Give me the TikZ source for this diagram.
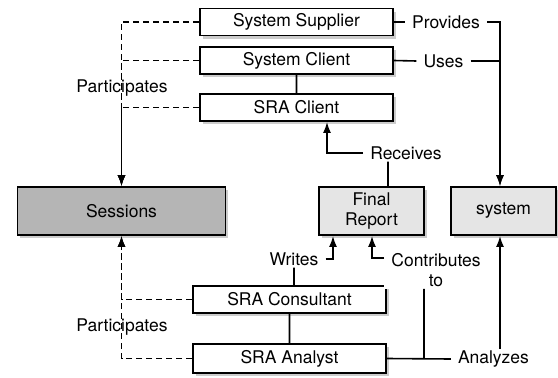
\documentclass[tikz,border=0pt]{standalone}
\usepackage{fontspec}
\setmainfont{TeX Gyre Heros}
\usetikzlibrary{arrows.meta,shadows}

\begin{document}
\begin{tikzpicture}[x=1pt,y=-1pt,
	every node/.style={font=\fontsize{17.5}{20}\selectfont},
	box/.style={draw,line width=1.9pt,fill=white,minimum width=193pt,minimum height=27pt,inner sep=0pt,
		drop shadow={shadow xshift=2.5pt,shadow yshift=-3pt,opacity=.4}},
	big/.style={box,minimum width=105pt,minimum height=48pt,align=center,fill=black!10},
	lbl/.style={fill=white,inner xsep=7pt,inner ysep=2pt},
	con/.style={line width=1.6pt},
	arr/.style={con,-{Latex[length=11pt,width=8pt]}},
	part/.style={arr,dash pattern=on 6pt off 4pt}]
	\useasboundingbox (0,0) rectangle (558,378);
	\path
	(500,0) coordinate (sysx)
	(388,0) coordinate (rcvx)
	(327,0) coordinate (rcvax)
	(333,0) coordinate (wrx)
	(424,0) coordinate (ctbx)
	(372,0) coordinate (ctbax)
	(0,258) coordinate (ctby)
	;
	% boxes
	\node[box] (sup) at (296.5,22) {System Supplier};
	\node[box] (cli) at (296.5,60.5) {System Client};
	\node[box] (sracli) at (296.5,107.5) {SRA Client};
	\node[box,minimum width=208pt,minimum height=48pt,fill=black!29] (sess) at (121.5,211) {Sessions};
	\node[big] (rep) at (371.5,211) {Final\\Report};
	\node[big] (sys) at (503.5,211) {system};
	\node[box] (cons) at (289.5,299.5) {SRA Consultant};
	\node[box,minimum height=29pt] (ana) at (289.5,358.5) {SRA Analyst};
	% labels
	\node (part1) at (122,88) {Participates};
	\node (part2) at (122,327) {Participates};
	\node[lbl] (prv) at (446,22) {Provides};
	\node[lbl] (use) at (443.5,61) {Uses};
	\node[lbl] (recv) at (406,153) {Receives};
	\node[lbl] (wr) at (294,259) {Writes};
	\node[lbl,align=center] (ctb) at (436,270) {Contributes\\to};
	\node[lbl] (anz) at (493.5,359) {Analyzes};
	% participation
	\foreach \b/\s in {sup/north,cli/north,sracli/north,cons/south,ana/south}
		\draw[part] (\b.west) -| (sess.\s);
	% connectors
	\draw[con] (cli) -- (sracli) (cons) -- (ana)
	(sup.east) -- (prv.west) (cli.east) -- (use.west)
	(rep.north -| rcvx) -- (recv.south -| rcvx)
	(wr.south) -- (wr.south |- cons.north)
	(ana.east) -- (anz.west)
	(ana.east -| ctbx) -- (ctb.south -| ctbx);
	\draw[arr] (prv.east) -| (sys.north -| sysx);
	\draw[arr] (use.east) -| (sys.north -| sysx);
	\draw[arr] (recv.west) -| (sracli.south -| rcvax);
	\draw[arr] (wr.east) -| (rep.south -| wrx);
	\draw[arr] (ctb.west |- ctby) -| (rep.south -| ctbax);
	\draw[arr] (anz.north -| sysx) -- (sys.south -| sysx);
\end{tikzpicture}
\end{document}
